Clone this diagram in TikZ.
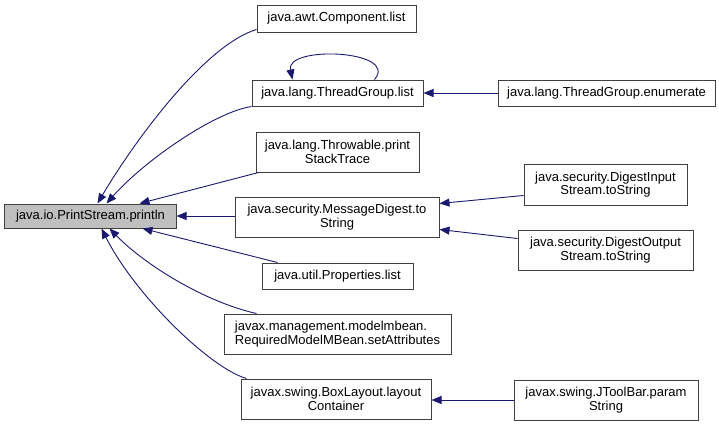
\documentclass[tikz,border=0pt]{standalone}
\usepackage{fontspec}
\setmainfont{Liberation Sans}
\usetikzlibrary{arrows.meta,calc}
\definecolor{edgecol}{HTML}{191970}
\definecolor{rootfill}{HTML}{BFBFBF}
\definecolor{boxline}{HTML}{404040}
\begin{document}
\begin{tikzpicture}[x=1bp,y=-1bp,
  every node/.style={font=\fontsize{13bp}{13.5bp}\selectfont},
  fn/.style={draw=boxline, line width=1bp, fill=white, inner sep=0pt, align=center, text=black},
  rootbox/.style={fn, fill=rootfill},
  edge/.style={draw=edgecol, line width=0.9bp, -{Triangle[length=10bp,width=8bp]}, fill=none},
]
\useasboundingbox[fill=white] (0,0) rectangle (719,426);

\node[rootbox, minimum width=171bp, minimum height=24bp] (root) at (90.5,216) {java.io.PrintStream.println};
\node[fn, minimum width=159bp, minimum height=27bp] (comp) at (336.5,18.5) {java.awt.Component.list};
\node[fn, minimum width=171bp, minimum height=26bp] (tgl) at (337.5,93) {java.lang.ThreadGroup.list};
\node[fn, minimum width=217bp, minimum height=26bp] (tge) at (606.5,93) {java.lang.ThreadGroup.enumerate};
\node[fn, minimum width=163bp, minimum height=40bp] (thr) at (337.5,152) {java.lang.Throwable.print\\StackTrace};
\node[fn, minimum width=204bp, minimum height=40bp] (md) at (337,217) {java.security.MessageDigest.to\\String};
\node[fn, minimum width=163bp, minimum height=41bp] (dis) at (605.5,184.5) {java.security.DigestInput\\Stream.toString};
\node[fn, minimum width=175bp, minimum height=40bp] (dos) at (605.5,250) {java.security.DigestOutput\\Stream.toString};
\node[fn, minimum width=151bp, minimum height=26bp] (prop) at (337.5,276) {java.util.Properties.list};
\node[fn, align=left, minimum width=227bp, minimum height=40bp] (mbean) at (337.5,334) {javax.management.modelmbean.\\RequiredModelMBean.setAttributes};
\node[fn, minimum width=190bp, minimum height=40bp] (blay) at (336,399) {javax.swing.BoxLayout.layout\\Container};
\node[fn, minimum width=184bp, minimum height=40bp] (jtb) at (606,400) {javax.swing.JToolBar.param\\String};

% edges into root
\draw[edge] ($(comp.south west)+(0,-3)$) .. controls (205,45) and (135,140) .. ($(root.north west)+(93,0)$);
\draw[edge] (tgl.south west) .. controls (215,112) and (145,160) .. ($(root.north west)+(102,0)$);
\draw[edge] ($(thr.south west)+(3,0)$) -- ($(root.north west)+(135,0)$);
\draw[edge] (md.west |- root.east) -- (root.east);
\draw[edge] ($(prop.north west)+(16,0)$) -- ($(root.south west)+(138,0)$);
\draw[edge] ($(mbean.north west)+(33,0)$) .. controls (205,302) and (145,265) .. ($(root.south west)+(105,0)$);
\draw[edge] ($(blay.north west)+(6,0)$) .. controls (210,368) and (135,295) .. ($(root.south west)+(97,0)$);

% self loop
\draw[edge] ($(tgl.north west)+(123,0)$) .. controls (400,50) and (285,45) .. ($(tgl.north west)+(41,0)$);

% right side edges
\draw[edge] (tge.west) -- (tgl.east |- tge.west);
\draw[edge] ($(dis.south west)+(0,-10)$) -- ($(md.north east)+(0,7)$);
\draw[edge] ($(dos.north west)+(0,9)$) -- ($(md.south east)+(0,-8)$);
\draw[edge] (jtb.west) -- (blay.east |- jtb.west);
\end{tikzpicture}
\end{document}
